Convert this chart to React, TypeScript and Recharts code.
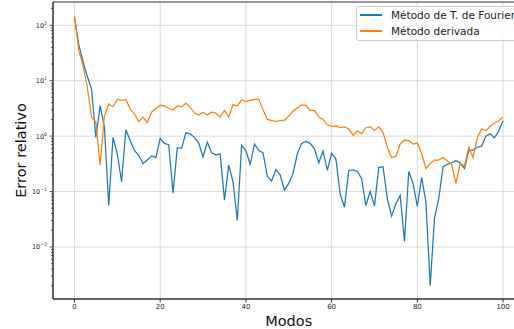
import React from "react";
import {
  LineChart, Line, XAxis, YAxis, CartesianGrid, Legend, ReferenceArea, ReferenceLine,
} from "recharts";

const FONT = "'DejaVu Sans', sans-serif";
const BLUE = "#1f77b4";
const ORANGE = "#ff7f0e";

// modos 0..100
const MODOS = [
  0, 1, 2, 3, 4, 5, 6, 7, 8, 9, 10, 11, 12, 13, 14, 15, 16, 17, 18, 19,
  20, 21, 22, 23, 24, 25, 26, 27, 28, 29, 30, 31, 32, 33, 34, 35, 36, 37, 38, 39,
  40, 41, 42, 43, 44, 45, 46, 47, 48, 49, 50, 51, 52, 53, 54, 55, 56, 57, 58, 59,
  60, 61, 62, 63, 64, 65, 66, 67, 68, 69, 70, 71, 72, 73, 74, 75, 76, 77, 78, 79,
  80, 81, 82, 83, 84, 85, 86, 87, 88, 89, 90, 91, 92, 93, 94, 95, 96, 97, 98, 99, 100,
];

// Método de T. de Fourier
const FOURIER = [
  145, 45, 22, 12, 7, 0.95, 3.5, 1.45, 0.056, 0.95,
  0.48, 0.15, 1.3, 0.83, 0.55, 0.45, 0.32, 0.37, 0.44, 0.41,
  0.91, 0.74, 0.7, 0.093, 0.62, 0.6, 1.15, 1.1, 0.95, 0.75,
  0.42, 0.78, 0.5, 0.46, 0.48, 0.07, 0.3, 0.15, 0.03, 0.68,
  0.55, 0.31, 0.72, 0.55, 0.5, 0.19, 0.155, 0.25, 0.2, 0.107,
  0.14, 0.21, 0.48, 0.74, 0.8, 0.74, 0.59, 0.33, 0.54, 0.24,
  0.49, 0.39, 0.09, 0.052, 0.24, 0.245, 0.23, 0.17, 0.056, 0.1,
  0.055, 0.27, 0.28, 0.074, 0.036, 0.06, 0.085, 0.0126, 0.23, 0.14,
  0.054, 0.18, 0.065, 0.002, 0.033, 0.075, 0.28, 0.31, 0.33, 0.36,
  0.33, 0.26, 0.55, 0.56, 0.63, 0.66, 1.0, 1.1, 0.93, 1.25, 1.9,
];

// Método derivada
const DERIVADA = [
  145, 36, 19, 7.7, 2.2, 1.8, 0.3, 2.35, 3.8, 3.4,
  4.6, 4.4, 4.6, 3.1, 2.5, 1.83, 2.2, 1.76, 2.7, 3.15,
  3.6, 3.5, 3.15, 2.95, 3.5, 3.4, 3.9, 3.3, 2.6, 2.4,
  2.7, 2.4, 2.7, 2.6, 2.2, 2.9, 2.2, 3.7, 3.5, 4.5,
  4.2, 4.4, 4.6, 4.6, 3.0, 2.0, 1.9, 1.85, 1.9, 1.95,
  2.3, 2.8, 3.2, 3.65, 3.6, 2.9, 2.9, 2.2, 2.0, 1.6,
  1.5, 1.53, 1.43, 1.47, 1.34, 1.04, 1.25, 1.1, 1.43, 1.47,
  1.28, 1.47, 1.17, 0.63, 0.41, 0.43, 0.72, 0.85, 0.83, 0.72,
  0.75, 0.48, 0.26, 0.32, 0.37, 0.37, 0.41, 0.36, 0.31, 0.14,
  0.32, 0.29, 0.63, 0.41, 0.95, 1.35, 1.25, 1.5, 1.7, 1.9, 2.2,
];

const X_TICKS = [0, 20, 40, 60, 80, 100];
const Y_MAJOR = [0.01, 0.1, 1, 10, 100];
const Y_MIN = 0.00115;
const Y_MAX = 263;

// minor log ticks (2..9 x 10^k) inside the domain
const Y_MINOR: number[] = [];
for (let e = -3; e <= 2; e++) {
  for (let m = 2; m <= 9; m++) {
    const v = m * Math.pow(10, e);
    if (v > Y_MIN && v < Y_MAX) Y_MINOR.push(Number(v.toPrecision(3)));
  }
}
const Y_TICKS = [...Y_MAJOR, ...Y_MINOR].sort((a, b) => a - b);

const SERIES = [
  { key: "fourier", name: "Método de T. de Fourier", color: BLUE },
  { key: "derivada", name: "Método derivada", color: ORANGE },
];

const data = MODOS.map((m, i) => ({ modo: m, fourier: FOURIER[i], derivada: DERIVADA[i] }));

const SUPER: Record<string, string> = { "-": "−" };

function LogTick({ x, y, payload }: any) {
  const v = payload.value as number;
  const exp = Math.round(Math.log10(v));
  const major = Math.abs(v / Math.pow(10, exp) - 1) < 1e-6;
  if (!major) {
    return <line x1={x - 2} x2={x} y1={y} y2={y} stroke="#333" strokeWidth={0.8} />;
  }
  const expText = String(exp).split("").map((c) => SUPER[c] ?? c).join("");
  return (
    <g>
      <line x1={x - 3.5} x2={x} y1={y} y2={y} stroke="#333" strokeWidth={0.8} />
      <text x={x - 6} y={y + 2.5} textAnchor="end" fontSize={6.5} fill="#222" fontFamily={FONT}>
        <tspan>10</tspan>
        <tspan dy={-3} fontSize={4.6}>{expText}</tspan>
      </text>
    </g>
  );
}

function LegendBox() {
  return (
    <div style={{
      border: "1px solid #cccccc", borderRadius: 3, background: "rgba(255,255,255,0.85)",
      width: 180, paddingBottom: 1, fontFamily: FONT, fontSize: 10.5, color: "#222",
    }}>
      {SERIES.map((s) => (
        <div key={s.key} style={{ height: 16, display: "flex", alignItems: "center" }}>
          <div style={{ width: 22, height: 1.5, background: s.color, marginLeft: 3, marginRight: 9 }} />
          <span style={{ whiteSpace: "nowrap" }}>{s.name}</span>
        </div>
      ))}
    </div>
  );
}

export default function App() {
  return (
    <div style={{ position: "absolute", left: 0, top: 0, width: 514, height: 329, overflow: "hidden", background: "#fff" }}>
      <LineChart width={530} height={329} data={data} margin={{ top: 2, right: 5.5, left: 0, bottom: 0 }}>
        <CartesianGrid stroke="#d6d6d6" strokeWidth={0.9} horizontal={false} />
        {Y_MAJOR.map((v) => (
          <ReferenceLine key={v} y={v} stroke="#d6d6d6" strokeWidth={0.9} />
        ))}
        <XAxis
          type="number"
          dataKey="modo"
          domain={[-5, 105]}
          ticks={X_TICKS}
          allowDataOverflow
          height={30}
          tickSize={3.5}
          tickMargin={2}
          tick={{ fontSize: 7, fill: "#222", fontFamily: FONT }}
          stroke="#333"
          label={{
            content: ({ viewBox }: any) => (
              <text x={viewBox.x + viewBox.width / 2} y={325.5} textAnchor="middle"
                fontSize={14.5} fill="#111" fontFamily={FONT}>Modos</text>
            ),
          }}
        />
        <YAxis
          scale="log"
          domain={[Y_MIN, Y_MAX]}
          ticks={Y_TICKS}
          interval={0}
          allowDataOverflow
          width={53}
          tickSize={0}
          tickMargin={0}
          tickLine={false}
          tick={<LogTick />}
          stroke="#333"
          label={{
            content: ({ viewBox }: any) => {
              const cx = 26;
              const cy = viewBox.y + viewBox.height / 2;
              return (
                <text x={cx} y={cy} transform={`rotate(-90, ${cx}, ${cy})`} textAnchor="middle"
                  fontSize={14.5} fill="#111" fontFamily={FONT}>Error relativo</text>
              );
            },
          }}
        />
        <ReferenceArea x1={-5} x2={105} y1={Y_MIN} y2={Y_MAX} fill="none" stroke="#333" strokeWidth={1} ifOverflow="visible" />
        {SERIES.map((s) => (
          <Line
            key={s.key}
            type="linear"
            dataKey={s.key}
            name={s.name}
            stroke={s.color}
            strokeWidth={1.25}
            dot={false}
            isAnimationActive={false}
          />
        ))}
        <Legend
          layout="vertical"
          align="center"
          verticalAlign="middle"
          content={<LegendBox />}
          wrapperStyle={{ position: "absolute", top: 6, left: 356, width: 182, height: 36 }}
        />
      </LineChart>
    </div>
  );
}
